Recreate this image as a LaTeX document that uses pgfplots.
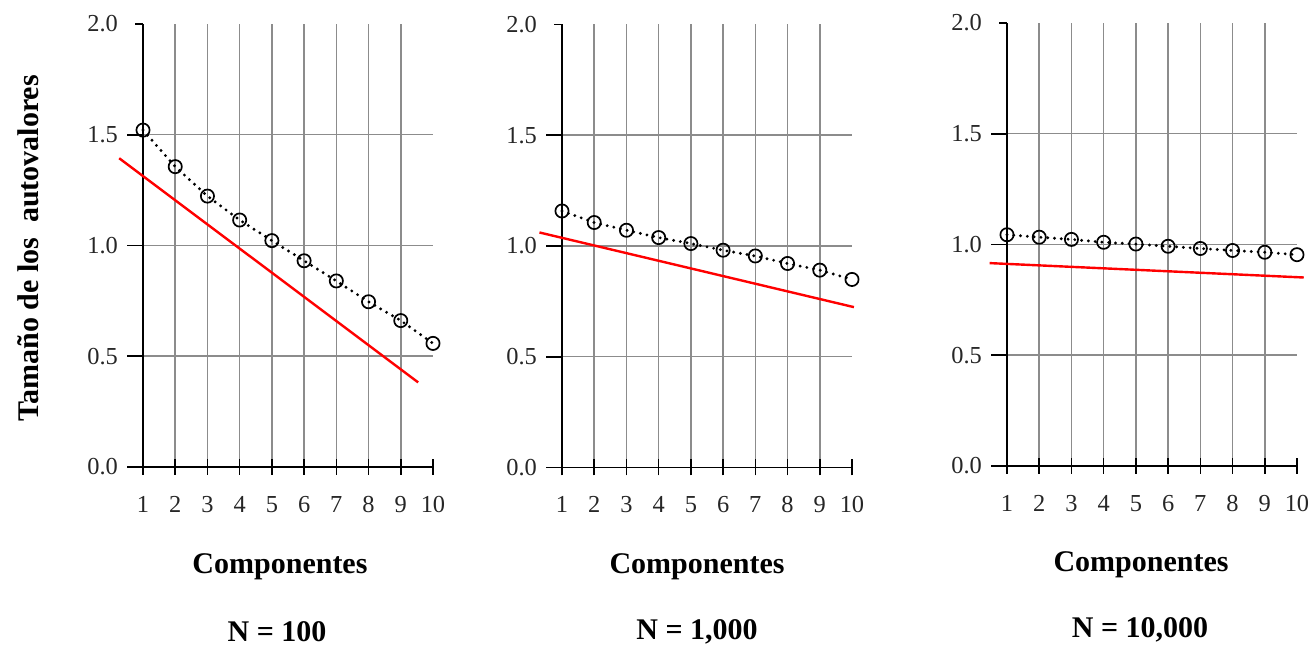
\documentclass[border=0pt]{standalone}
\usepackage{fontspec}
\setmainfont{Liberation Serif}
\usepackage{pgfplots}
\pgfplotsset{compat=1.18}
\definecolor{gridgray}{RGB}{140,140,140}
\pgfplotsset{
  panel/.style={
    scale only axis, width=145pt, height=221.5pt, anchor=south west,
    xmin=1, xmax=10, ymin=0, ymax=2,
    axis x line=bottom, axis y line=left,
    axis line style={-, line width=0.8pt, black},
    xtick={1,...,10}, ytick={0,0.5,1,1.5,2},
    minor xtick={2,...,9}, minor ytick={0.5,1,1.5},
    xminorgrids=true, yminorgrids=true, xmajorgrids=false, ymajorgrids=false,
    minor tick length=0pt,
    minor grid style={gridgray, line width=0.75pt},
    major tick length=8pt,
    xtick align=center, ytick align=outside,
    tick style={black, line width=0.8pt},
    ytick style={shorten <=4pt},
    yticklabel style={/pgf/number format/fixed, /pgf/number format/fixed zerofill, /pgf/number format/precision=1, xshift=-1pt},
    xticklabel style={yshift=-7pt},
    /pgf/number format/assume math mode=true,
    tick label style={font=\fontsize{12.2}{14}\selectfont, text=black!85},
    clip=false,
  },
  dots/.style={black, line width=1.6pt, line cap=round, dash pattern=on 0pt off 3.4pt,
    mark=o, mark size=3.3pt, mark options={solid, line width=0.85pt}},
  redline/.style={red, line width=1.2pt, no marks},
}
\begin{document}
\begin{tikzpicture}
\useasboundingbox (0,0) rectangle (656.5pt,324pt);
% Panel 1: N = 100
\begin{axis}[panel, at={(71.5pt,90.5pt)}]
\addplot[dots] coordinates {(1,1.521) (2,1.356) (3,1.223) (4,1.115) (5,1.022) (6,0.931) (7,0.840) (8,0.746) (9,0.661) (10,0.558)};
\addplot[redline] coordinates {(0.26,1.394) (9.54,0.382)};
\end{axis}
% Panel 2: N = 1,000
\begin{axis}[panel, at={(281pt,90.25pt)}]
\addplot[dots] coordinates {(1,1.158) (2,1.106) (3,1.071) (4,1.038) (5,1.011) (6,0.981) (7,0.955) (8,0.921) (9,0.891) (10,0.849)};
\addplot[redline] coordinates {(0.30,1.061) (10.06,0.724)};
\end{axis}
% Panel 3: N = 10,000
\begin{axis}[panel, at={(503.5pt,91pt)}]
\addplot[dots] coordinates {(1,1.044) (2,1.033) (3,1.023) (4,1.010) (5,1.002) (6,0.992) (7,0.982) (8,0.973) (9,0.965) (10,0.954)};
\addplot[redline] coordinates {(0.46,0.916) (10.21,0.851)};
\end{axis}
\tikzset{lab/.style={font=\fontsize{15}{17}\selectfont\bfseries, inner sep=0pt}}
\node[lab, rotate=90] at (14pt,199.75pt) {Tamaño de los \ autovalores};
\node[lab] at (140pt,40.5pt) {Componentes};
\node[lab] at (348.5pt,40.5pt) {Componentes};
\node[lab] at (570.5pt,41.5pt) {Componentes};
\node[lab] at (138.5pt,8pt) {N = 100};
\node[lab] at (348.5pt,8pt) {N = 1,000};
\node[lab] at (570pt,9pt) {N = 10,000};
\end{tikzpicture}
\end{document}
